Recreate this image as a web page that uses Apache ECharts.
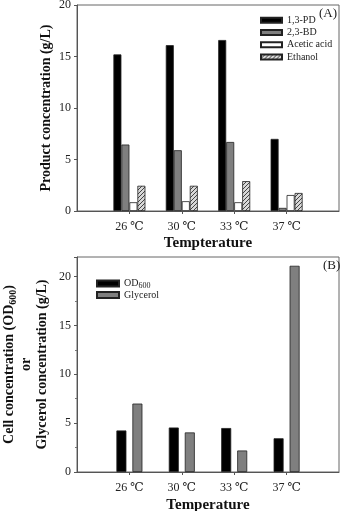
<!DOCTYPE html>
<html>
<head>
<meta charset="utf-8">
<script src="https://cdn.jsdelivr.net/npm/echarts@6/dist/echarts.min.js"></script>
<style>
  html, body { margin: 0; padding: 0; background: #fff; }
  #chart { width: 347px; height: 511px; }
</style>
</head>
<body>
<div id="chart"></div>
<script>
// data
const categories = ['26 ℃', '30 ℃', '33 ℃', '37 ℃'];
const pd13 = [15.2, 16.1, 16.6, 7.0];
const bd23 = [6.45, 5.9, 6.7, 0.3];
const aceticAcid = [0.85, 0.95, 0.85, 1.55];
const ethanol = [2.45, 2.45, 2.9, 1.75];
const od600 = [4.25, 4.55, 4.5, 3.45];
const glycerol = [7.0, 4.05, 2.2, 21.1];
const yTicksA = [0, 5, 10, 15, 20];
const yTicksB = [0, 5, 10, 15, 20];

const font = '"Liberation Serif", "DejaVu Serif", serif';

// pad categories so the four groups sit at 1..4 on a 0..5 axis
const axisCats = [''].concat(categories, ['']);
const pad = arr => [null].concat(arr, [null]);

// hatch pattern for ethanol
const hatch = document.createElement('canvas');
hatch.width = 4; hatch.height = 4;
(function () {
  const c = hatch.getContext('2d');
  c.fillStyle = '#d8d8d8';
  c.fillRect(0, 0, 4, 4);
  c.strokeStyle = '#444';
  c.lineWidth = 1;
  c.beginPath();
  c.moveTo(0, 4); c.lineTo(4, 0);
  c.moveTo(-1, 1); c.lineTo(1, -1);
  c.moveTo(3, 5); c.lineTo(5, 3);
  c.stroke();
})();

const myChart = echarts.init(document.getElementById('chart'), null, { renderer: 'canvas' });

function xAxisFor(gridIndex, name, gap) {
  return {
    type: 'category',
    gridIndex: gridIndex,
    data: axisCats,
    boundaryGap: false,
    name: name,
    nameLocation: 'middle',
    nameGap: gap,
    nameTextStyle: { fontFamily: font, fontWeight: 'bold', fontSize: 15, color: '#111' },
    axisLine: { lineStyle: { color: '#555', width: 1 } },
    axisTick: { length: 3, lineStyle: { color: '#555' }, interval: (i) => i > 0 && i < 5 },
    axisLabel: { interval: 0, fontFamily: font, fontSize: 12, color: '#222', margin: 10 },
    splitLine: { show: false }
  };
}

function yAxisFor(gridIndex, max, ticks, name, extra) {
  return Object.assign({
    type: 'value',
    gridIndex: gridIndex,
    min: ticks[0],
    max: max,
    interval: 5,
    name: name,
    nameLocation: 'middle',
    nameRotate: 90,
    nameMoveOverlap: false,
    axisLine: { show: true, lineStyle: { color: '#555', width: 1 } },
    axisTick: { show: true, length: 3, lineStyle: { color: '#555' } },
    axisLabel: { fontFamily: font, fontSize: 12, color: '#222', margin: 6, showMaxLabel: max === ticks[ticks.length - 1] },
    splitLine: { show: false }
  }, extra || {});
}

const barBorder = { borderColor: '#222', borderWidth: 0.8 };

const option = {
  animation: false,
  backgroundColor: '#fff',
  grid: [
    { left: 77, right: 8, top: 5, bottom: 300, show: true, borderColor: '#666', borderWidth: 1, outerBoundsMode: 'none' },
    { left: 77, right: 8, top: 257, bottom: 39, show: true, borderColor: '#666', borderWidth: 1, outerBoundsMode: 'none' }
  ],
  legend: [
    {
      data: ['1,3-PD', '2,3-BD', 'Acetic acid', 'Ethanol'],
      orient: 'vertical',
      left: 255,
      top: 9,
      itemWidth: 21,
      itemHeight: 5,
      itemGap: 0,
      icon: 'rect',
      textStyle: { fontFamily: font, fontSize: 10, color: '#222', lineHeight: 12.3 }
    },
    {
      data: ['OD600', 'Glycerol'],
      orient: 'vertical',
      left: 91,
      top: 272,
      itemWidth: 22,
      itemHeight: 6,
      itemGap: 0,
      icon: 'rect',
      formatter: n => n === 'OD600' ? '{a|OD}{s|600}' : '{a|' + n + '}',
      textStyle: {
        fontFamily: font, fontSize: 10, color: '#222',
        rich: {
          a: { fontFamily: font, fontSize: 10, color: '#222', lineHeight: 13 },
          s: { fontFamily: font, fontSize: 8, color: '#222', padding: [5, 0, 0, 0], lineHeight: 13 }
        }
      }
    }
  ],
  graphic: [
    { type: 'text', left: 319, top: 7, style: { text: '(A)', font: '13px ' + font, fill: '#222' } },
    { type: 'text', left: 323, top: 259, style: { text: '(B)', font: '13px ' + font, fill: '#222' } }
  ],
  xAxis: [
    xAxisFor(0, 'Tempterature', 25),
    xAxisFor(1, 'Temperature', 26)
  ],
  yAxis: [
    yAxisFor(0, 20, yTicksA, 'Product concentration (g/L)', {
      nameGap: 24,
      nameTextStyle: { fontFamily: font, fontWeight: 'bold', fontSize: 14, color: '#111' }
    }),
    yAxisFor(1, 22, yTicksB, 'Cell concentration (OD{s|600})\nor\nGlycerol concentration (g/L)', {
      nameGap: 26,
      minorTick: { show: true, splitNumber: 2, length: 2, lineStyle: { color: '#777' } },
      nameTextStyle: {
        fontFamily: font, fontWeight: 'bold', fontSize: 14, color: '#111', lineHeight: 16.5,
        rich: {
          s: { fontFamily: font, fontWeight: 'bold', fontSize: 10, color: '#111', padding: [7, 0, 0, 0] }
        }
      }
    })
  ],
  series: [
    { name: '1,3-PD', type: 'bar', xAxisIndex: 0, yAxisIndex: 0, data: pad(pd13), barWidth: 8, barGap: '0%',
      itemStyle: Object.assign({ color: '#000' }, barBorder) },
    { name: '2,3-BD', type: 'bar', xAxisIndex: 0, yAxisIndex: 0, data: pad(bd23), barWidth: 8, barGap: '0%',
      itemStyle: Object.assign({ color: '#7f7f7f' }, barBorder) },
    { name: 'Acetic acid', type: 'bar', xAxisIndex: 0, yAxisIndex: 0, data: pad(aceticAcid), barWidth: 8, barGap: '0%',
      itemStyle: Object.assign({ color: '#fff' }, barBorder) },
    { name: 'Ethanol', type: 'bar', xAxisIndex: 0, yAxisIndex: 0, data: pad(ethanol), barWidth: 8, barGap: '0%',
      itemStyle: Object.assign({ color: { image: hatch, repeat: 'repeat' } }, barBorder) },
    { name: 'OD600', type: 'bar', xAxisIndex: 1, yAxisIndex: 1, data: pad(od600), barWidth: 10, barGap: '60%',
      itemStyle: Object.assign({ color: '#000' }, barBorder) },
    { name: 'Glycerol', type: 'bar', xAxisIndex: 1, yAxisIndex: 1, data: pad(glycerol), barWidth: 10, barGap: '60%',
      itemStyle: Object.assign({ color: '#7f7f7f' }, barBorder) }
  ]
};

myChart.setOption(option);
</script>
</body>
</html>
